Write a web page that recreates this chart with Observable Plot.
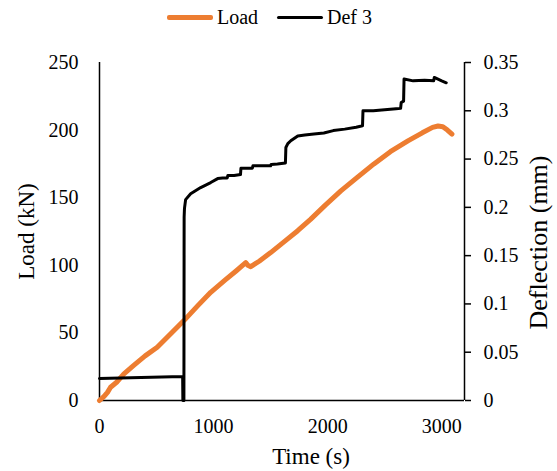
<!DOCTYPE html>
<html>
<head>
<meta charset="utf-8">
<script src="https://cdn.jsdelivr.net/npm/d3@7"></script>
<script src="https://cdn.jsdelivr.net/npm/@observablehq/plot@0.6"></script>
<style>
  html, body { margin: 0; padding: 0; background: #fff; }
  #legend { position: relative; width: 557px; height: 34px; font-family: "Liberation Serif", "Times New Roman", serif; font-size: 20px; color: #000; }
  .item { position: absolute; top: 0; height: 34px; display: flex; align-items: center; }
  .sw { display: inline-block; width: 46px; margin-right: 4px; border-radius: 2px; }
  #chart svg, #chart svg text { font-family: "Liberation Serif", "Times New Roman", serif !important; }
</style>
</head>
<body>
<div id="legend"></div>
<div id="chart"></div>
<script>
// Load series (time in s, load in kN)
const loadTime = [0, 40, 70, 97, 150, 214, 300, 400, 506, 620, 740, 860, 975, 1100, 1200, 1282, 1300, 1326, 1400, 1501, 1620, 1738, 1850, 1980, 2116, 2260, 2406, 2550, 2704, 2830, 2920, 2968, 3010, 3050, 3090];
const loadKN   = [0, 3, 6, 9.8, 13.5, 19.7, 26, 33, 39.4, 49, 59.1, 70, 80, 89, 96, 102, 100, 99, 103, 109.4, 117.5, 125.6, 134, 144.5, 155, 165, 175, 184, 192, 198, 202, 203, 202.5, 200, 197];

// Def 3 series (time in s, deflection in mm)
const defTime = [0, 729, 731, 740, 742, 745, 755, 799, 887, 975, 1036, 1080, 1120, 1125, 1180, 1236, 1240, 1300, 1340, 1345, 1420, 1500, 1505, 1560, 1630, 1634, 1651, 1677, 1738, 1800, 1880, 1967, 2050, 2150, 2250, 2306, 2310, 2400, 2500, 2600, 2640, 2645, 2666, 2670, 2750, 2850, 2930, 2935, 3000, 3040];
const defMM   = [0.0228, 0.0248, 0, 0, 0.19, 0.199, 0.208, 0.214, 0.2205, 0.2257, 0.2298, 0.2305, 0.2305, 0.233, 0.233, 0.234, 0.2405, 0.2405, 0.2405, 0.243, 0.243, 0.243, 0.2445, 0.245, 0.246, 0.262, 0.266, 0.269, 0.274, 0.275, 0.276, 0.277, 0.2795, 0.281, 0.283, 0.2845, 0.300, 0.300, 0.301, 0.302, 0.3025, 0.3085, 0.310, 0.333, 0.331, 0.3315, 0.331, 0.3345, 0.331, 0.329];

// Tick labels
const xTicks = [0, 1000, 2000, 3000];
const loadTicks = [0, 50, 100, 150, 200, 250];
const defTicks = [0, 0.05, 0.1, 0.15, 0.2, 0.25, 0.3, 0.35];
const defTickLabels = ["0", "0.05", "0.1", "0.15", "0.2", "0.25", "0.3", "0.35"];

const seriesNames = ["Load", "Def 3"];
const seriesColors = ["#ED7D31", "#000000"];

const loadMax = 250, defMax = 0.35, timeMax = 3200;
const k = loadMax / defMax;

const loadData = loadTime.map((t, i) => ({t, v: loadKN[i]}));
const defData = defTime.map((t, i) => ({t, v: defMM[i] * k}));

// Legend
const legend = document.getElementById("legend");
const legendLeft = [167, 277];
const swH = [5, 3];
seriesNames.forEach((name, i) => {
  const it = document.createElement("div");
  it.className = "item";
  it.style.left = legendLeft[i] + "px";
  const sw = document.createElement("span");
  sw.className = "sw";
  sw.style.height = swH[i] + "px";
  sw.style.background = seriesColors[i];
  it.appendChild(sw);
  it.appendChild(document.createTextNode(name));
  legend.appendChild(it);
});

const font = "'Liberation Serif', 'Times New Roman', serif";

const chart = Plot.plot({
  width: 557,
  height: 437,
  marginTop: 28,
  marginBottom: 71,
  marginLeft: 99,
  marginRight: 93,
  style: { fontFamily: font, fontSize: "20px", color: "#000", background: "#fff" },
  x: { domain: [0, timeMax] },
  y: { domain: [0, loadMax] },
  marks: [
    Plot.axisX({ ticks: xTicks, tickSize: 0, tickPadding: 18, tickFormat: d => String(d), label: null, fontSize: 20 }),
    Plot.axisY({ ticks: loadTicks, tickSize: 0, tickPadding: 21, label: null, fontSize: 20 }),
    Plot.axisY({ anchor: "right", ticks: defTicks.map(d => d * k), tickFormat: (d, i) => defTickLabels[i], tickSize: 6, tickPadding: 13, strokeWidth: 1.5, label: null, fontSize: 20, textAnchor: "start" }),
    Plot.ruleX([0], { stroke: "#000", strokeWidth: 1.5 }),
    Plot.ruleX([timeMax], { stroke: "#000", strokeWidth: 1.5 }),
    Plot.ruleY([0], { stroke: "#000", strokeWidth: 1.5 }),
    Plot.line(loadData, { x: "t", y: "v", stroke: seriesColors[0], strokeWidth: 5 }),
    Plot.line(defData, { x: "t", y: "v", stroke: seriesColors[1], strokeWidth: 3 }),
    Plot.text(["Time (s)"], { frameAnchor: "bottom", dx: 29, dy: 56, fontSize: 23, lineAnchor: "middle", fill: "#000" }),
    Plot.text(["Load (kN)"], { frameAnchor: "left", dx: -73, rotate: -90, fontSize: 23, lineAnchor: "middle", textAnchor: "middle", fill: "#000" }),
    Plot.text(["Deflection (mm)"], { frameAnchor: "right", dx: 74, dy: 11, rotate: -90, fontSize: 26, lineAnchor: "middle", textAnchor: "middle", fill: "#000" })
  ]
});
document.getElementById("chart").appendChild(chart);
</script>
</body>
</html>
